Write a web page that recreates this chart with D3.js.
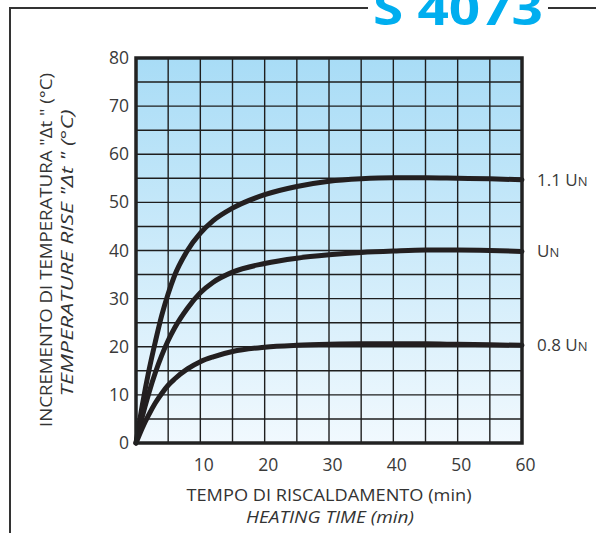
<!DOCTYPE html>
<html>
<head>
<meta charset="utf-8">
<script src="https://cdn.jsdelivr.net/npm/d3@7"></script>
<style>
  body { margin: 0; background: #fff; }
  svg { display: block; font-family: 'Open Sans', 'DejaVu Sans', sans-serif; }
</style>
</head>
<body>
<script>
// heating time (min) and temperature rise for each supply voltage
var times = [0, 1, 2, 3, 4, 5, 6, 8, 10, 12, 15, 20, 25, 30, 35, 40, 45, 50, 55, 60];
var rise11 = [0, 8, 15, 21, 26.5, 31, 34.8, 40, 43.6, 46.2, 48.8, 51.6, 53.3, 54.4, 54.9, 55.1, 55.1, 55, 54.9, 54.7];
var rise10 = [0, 5.6, 10.4, 14.6, 18.2, 21.3, 23.9, 28, 31.2, 33.4, 35.5, 37.3, 38.4, 39.1, 39.6, 39.9, 40.1, 40.1, 40, 39.8];
var rise08 = [0, 3.2, 5.9, 8.3, 10.3, 12, 13.3, 15.4, 16.9, 17.9, 19, 19.9, 20.3, 20.5, 20.6, 20.6, 20.6, 20.5, 20.4, 20.3];
var seriesNames = ['1.1 U', 'U', '0.8 U'];
var xTicks = [10, 20, 30, 40, 50, 60];
var yTicks = [0, 10, 20, 30, 40, 50, 60, 70, 80];

var series = [rise11, rise10, rise08];

var width = 601,
  height = 533;
var margin = { top: 58, right: 79, bottom: 90, left: 136 };

var svg = d3
  .select('body')
  .append('svg')
  .attr('width', width)
  .attr('height', height);

var x = d3.scaleLinear().domain([0, 60]).range([margin.left, width - margin.right]);
var y = d3.scaleLinear().domain([0, 80]).range([height - margin.bottom, margin.top]);

// background gradient
var grad = svg
  .append('defs')
  .append('linearGradient')
  .attr('id', 'bg')
  .attr('x1', 0).attr('y1', 0)
  .attr('x2', 0).attr('y2', 1);
grad.append('stop').attr('offset', '0%').attr('stop-color', '#a8dcf6');
grad.append('stop').attr('offset', '100%').attr('stop-color', '#f1f9fe');

// frame with title (title is cut by the top edge, like the original)
svg.append('line')
  .attr('x1', 10).attr('y1', 8).attr('x2', 368).attr('y2', 8)
  .attr('stroke', '#333').attr('stroke-width', 2);
svg.append('line')
  .attr('x1', 548).attr('y1', 8).attr('x2', 596).attr('y2', 8)
  .attr('stroke', '#333').attr('stroke-width', 2);
svg.append('line')
  .attr('x1', 10).attr('y1', 7).attr('x2', 10).attr('y2', height)
  .attr('stroke', '#333').attr('stroke-width', 2);
svg.append('text')
  .attr('x', 373)
  .attr('y', 25)
  .attr('textLength', 170)
  .attr('lengthAdjust', 'spacingAndGlyphs')
  .attr('fill', '#00aeef')
  .attr('font-size', 46)
  .attr('font-weight', 'bold')
  .text('S 4073');

svg.append('rect')
  .attr('x', x(0)).attr('y', y(80))
  .attr('width', x(60) - x(0)).attr('height', y(0) - y(80))
  .attr('fill', 'url(#bg)');

// grid every 5 units
var grid = svg.append('g').attr('stroke', '#1e1e1e').attr('stroke-width', 1.4);
grid.selectAll('line.v')
  .data(d3.range(5, 60, 5))
  .enter()
  .append('line')
  .attr('x1', d => x(d)).attr('x2', d => x(d))
  .attr('y1', y(80)).attr('y2', y(0));
grid.selectAll('line.h')
  .data(d3.range(5, 80, 5))
  .enter()
  .append('line')
  .attr('y1', d => y(d)).attr('y2', d => y(d))
  .attr('x1', x(0)).attr('x2', x(60));

// axes (labels only, plot border drawn as rect)
var xAxis = svg.append('g')
  .attr('transform', 'translate(3,' + y(0) + ')')
  .call(d3.axisBottom(x).tickValues(xTicks).tickSize(0).tickPadding(16));
var yAxis = svg.append('g')
  .attr('transform', 'translate(' + (x(0) - 4) + ',0)')
  .call(d3.axisLeft(y).tickValues(yTicks).tickSize(0).tickPadding(3));
[xAxis, yAxis].forEach(function(a) {
  a.select('.domain').remove();
  a.selectAll('text')
    .attr('font-family', "'Open Sans', sans-serif")
    .attr('font-size', 17.5)
    .attr('fill', '#3a3a3a');
});

// curves
var line = d3.line()
  .x((d, i) => x(times[i]))
  .y(d => y(d))
  .curve(d3.curveMonotoneX);

svg.selectAll('path.curve')
  .data(series)
  .enter()
  .append('path')
  .attr('class', 'curve')
  .attr('d', line)
  .attr('fill', 'none')
  .attr('stroke', '#231f20')
  .attr('stroke-width', 5)
  .attr('stroke-linecap', 'round');

// plot border
svg.append('rect')
  .attr('x', x(0)).attr('y', y(80))
  .attr('width', x(60) - x(0)).attr('height', y(0) - y(80))
  .attr('fill', 'none')
  .attr('stroke', '#222')
  .attr('stroke-width', 3.5);

// curve labels
var labels = svg.selectAll('text.lbl')
  .data(series)
  .enter()
  .append('text')
  .attr('class', 'lbl')
  .attr('x', 537)
  .attr('y', d => y(d[d.length - 1]) + 6)
  .attr('font-size', 17)
  .attr('fill', '#3a3a3a');
labels.append('tspan').text((d, i) => seriesNames[i]);
labels.append('tspan').attr('font-size', 13).text('N');

// axis titles
function title(tx, ty, rot, len, italic, str) {
  svg.append('text')
    .attr('transform', 'translate(' + tx + ',' + ty + ') rotate(' + rot + ')')
    .attr('text-anchor', 'middle')
    .attr('font-size', 17)
    .attr('font-style', italic ? 'italic' : 'normal')
    .attr('textLength', len)
    .attr('lengthAdjust', 'spacingAndGlyphs')
    .attr('fill', '#333')
    .text(str);
}
title(329, 501, 0, 285, false, 'TEMPO DI RISCALDAMENTO (min)');
title(330, 523, 0, 168, true, 'HEATING TIME (min)');
title(52, 250, -90, 354, false, 'INCREMENTO DI TEMPERATURA "\u0394t " (\u00b0C)');
title(73, 253, -90, 287, true, 'TEMPERATURE RISE "\u0394t " (\u00b0C)');
</script>
</body>
</html>
